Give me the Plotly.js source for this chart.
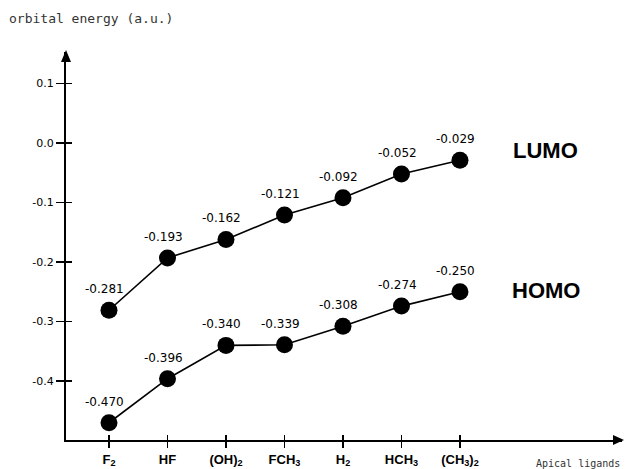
<!DOCTYPE html>
<html>
<head>
<meta charset="utf-8">
<script src="https://cdn.plot.ly/plotly-3.0.1.min.js"></script>
<style>html,body{margin:0;padding:0;background:#fff;}#chart{width:625px;height:469px;}</style>
</head>
<body>
<div id="chart"></div>
<script>
// Data
const ligands = ['F<sub>2</sub>', 'HF', '(OH)<sub>2</sub>', 'FCH<sub>3</sub>', 'H<sub>2</sub>', 'HCH<sub>3</sub>', '(CH<sub>3</sub>)<sub>2</sub>'];
const lumo = [-0.281, -0.193, -0.162, -0.121, -0.092, -0.052, -0.029];
const homo = [-0.470, -0.396, -0.340, -0.339, -0.308, -0.274, -0.250];
const yTicks = [0.1, 0.0, -0.1, -0.2, -0.3, -0.4];
const yTickText = ['0.1', '0.0', '-0.1', '-0.2', '-0.3', '-0.4'];

const xIdx = ligands.map((_, i) => i);

function series(vals, name) {
  return {
    x: xIdx, y: vals, name: name, type: 'scatter', mode: 'lines+markers',
    line: {color: '#000', width: 1.6},
    marker: {color: '#000', size: 17},
    hoverinfo: 'skip', showlegend: false
  };
}

const labelFont = {family: 'DejaVu Sans', size: 12, color: '#000'};
const annotations = [];
[lumo, homo].forEach(vals => {
  vals.forEach((v, i) => {
    annotations.push({
      x: xIdx[i], y: v, xref: 'x', yref: 'y', text: v.toFixed(3),
      showarrow: false, xshift: -4, yshift: 21, font: labelFont
    });
  });
});
annotations.push({x: 6, y: lumo[6], xref: 'x', yref: 'y', text: '<b>LUMO</b>', showarrow: false,
  xshift: 86, yshift: 10, font: {family: 'Liberation Sans', size: 22, color: '#000'}});
annotations.push({x: 6, y: homo[6], xref: 'x', yref: 'y', text: '<b>HOMO</b>', showarrow: false,
  xshift: 86, yshift: 1, font: {family: 'Liberation Sans', size: 22, color: '#000'}});
annotations.push({x: -0.106, y: 1.087, xref: 'paper', yref: 'paper', text: 'orbital energy (a.u.)',
  showarrow: false, xanchor: 'left', yanchor: 'middle',
  font: {family: 'DejaVu Sans Mono', size: 13, color: '#333'}});
annotations.push({x: 1, y: 0, xref: 'paper', yref: 'paper', text: 'Apical ligands', showarrow: false,
  xanchor: 'right', yanchor: 'middle', yshift: -23,
  font: {family: 'DejaVu Sans Mono', size: 10, color: '#333'}});

const xr = [-0.735, 8.77];
const yr = [-0.499, 0.153];

const layout = {
  width: 625, height: 469,
  margin: {l: 66, r: 3, t: 52, b: 29},
  paper_bgcolor: '#fff', plot_bgcolor: '#fff',
  xaxis: {
    range: xr, showgrid: false, zeroline: false, showline: true, linecolor: '#000', linewidth: 2,
    tickvals: xIdx, ticktext: ligands, ticks: 'outside', ticklen: 6, tickwidth: 1.5, tickcolor: '#000',
    tickfont: {family: 'Liberation Sans', size: 13, color: '#000', weight: 'bold'}, fixedrange: true
  },
  xaxis2: {
    range: xr, overlaying: 'x', anchor: 'y2', side: 'bottom', showgrid: false, zeroline: false,
    tickvals: xIdx, showticklabels: false, ticks: 'inside', ticklen: 5, tickwidth: 1.5, tickcolor: '#000'
  },
  yaxis: {
    range: yr, showgrid: false, zeroline: false, showline: true, linecolor: '#000', linewidth: 2,
    tickvals: yTicks, ticktext: yTickText, ticks: 'outside', ticklen: 8, tickwidth: 1.5, tickcolor: '#000',
    tickfont: {family: 'DejaVu Sans', size: 11, color: '#000'}, fixedrange: true
  },
  yaxis2: {
    range: yr, overlaying: 'y', anchor: 'x2', side: 'left', showgrid: false, zeroline: false,
    tickvals: yTicks, showticklabels: false, ticks: 'inside', ticklen: 6, tickwidth: 1.5, tickcolor: '#000'
  },
  shapes: [
    {type: 'path', xref: 'paper', yref: 'paper', xsizemode: 'pixel', ysizemode: 'pixel',
     xanchor: 1, yanchor: 0, path: 'M2,0 L-9,5 L-9,-5 Z', fillcolor: '#000', line: {width: 0}},
    {type: 'path', xref: 'paper', yref: 'paper', xsizemode: 'pixel', ysizemode: 'pixel',
     xanchor: 0, yanchor: 1, path: 'M0,2 L-5,-10 L5,-10 Z', fillcolor: '#000', line: {width: 0}}
  ],
  annotations: annotations
};

// empty helper trace so the overlaid tick-only axes are drawn
const tickHelper = {x: [null], y: [null], xaxis: 'x2', yaxis: 'y2', type: 'scatter', mode: 'markers',
  hoverinfo: 'skip', showlegend: false};

Plotly.newPlot('chart', [series(lumo, 'LUMO'), series(homo, 'HOMO'), tickHelper], layout, {displayModeBar: false, staticPlot: true});
</script>
</body>
</html>
